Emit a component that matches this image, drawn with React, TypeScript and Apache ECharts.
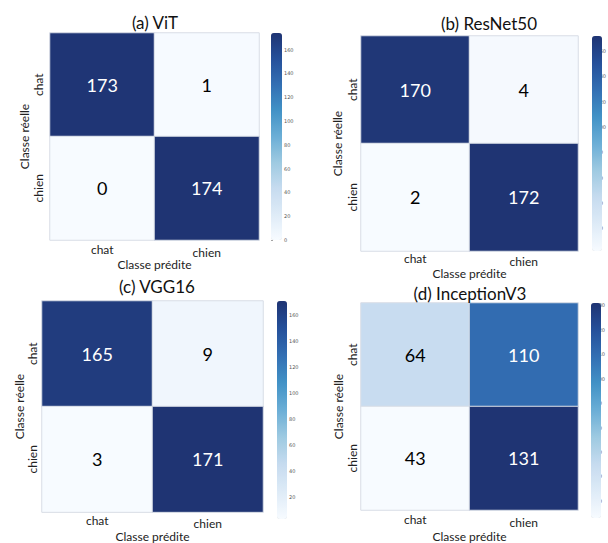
import React, { useEffect, useRef } from 'react';
import * as echarts from 'echarts';

// ---------- data ----------
const categories = ['chat', 'chien'];
const panelTitles = ['(a) ViT', '(b) ResNet50', '(c) VGG16', '(d) InceptionV3'];
// rows = actual class (chat, chien), columns = predicted class (chat, chien)
const vitMatrix = [[173, 1], [0, 174]];
const resnetMatrix = [[170, 4], [2, 172]];
const vggMatrix = [[165, 9], [3, 171]];
const inceptionMatrix = [[64, 110], [43, 131]];
const vitTicks = [0, 20, 40, 60, 80, 100, 120, 140, 160];
const resnetTicks = [20, 40, 60, 80, 100, 120, 140, 160];
const vggTicks = [20, 40, 60, 80, 100, 120, 140, 160];
const inceptionTicks = [50, 60, 70, 80, 90, 100, 110, 120, 130];
const xAxisName = 'Classe prédite';
const yAxisName = 'Classe réelle';

const matrices = [vitMatrix, resnetMatrix, vggMatrix, inceptionMatrix];
const tickLists = [vitTicks, resnetTicks, vggTicks, inceptionTicks];

// ---------- layout / style ----------
const FONT = 'Lato, "Open Sans", sans-serif';
const blues = ['#f7fbff', '#deebf7', '#c6dbef', '#9ecae1', '#6baed6', '#4292c6', '#336fb3', '#25509a', '#1f3473'];
const layouts = [
  { grid: { left: 50, top: 33, width: 209, height: 207 }, bar: { left: 271, top: 33, width: 11, height: 207 }, title: { x: 155, y: 14 }, xLabelMargin: 3, yLabelMargin: 6, xNameGap: 12, yNameGap: 20 },
  { grid: { left: 361, top: 36, width: 217, height: 215 }, bar: { left: 592, top: 36, width: 10, height: 215 }, title: { x: 489, y: 15 }, xLabelMargin: 1, yLabelMargin: 3, xNameGap: 7, yNameGap: 18 },
  { grid: { left: 42, top: 301, width: 221, height: 218 }, bar: { left: 277, top: 301, width: 10, height: 218 }, title: { x: 157, y: 278 }, xLabelMargin: 2, yLabelMargin: 4, xNameGap: 16, yNameGap: 17 },
  { grid: { left: 361, top: 303, width: 217, height: 215 }, bar: { left: 591, top: 303, width: 10, height: 215 }, title: { x: 470, y: 285 }, xLabelMargin: 3, yLabelMargin: 3, xNameGap: 20, yNameGap: 17 },
];

function buildOption() {
  const grids: any[] = [];
  const barGrids: any[] = [];
  const xAxes: any[] = [];
  const barXAxes: any[] = [];
  const yAxes: any[] = [];
  const barYAxes: any[] = [];
  const series: any[] = [];
  const visualMaps: any[] = [];
  const titles: any[] = [];
  const n = matrices.length;

  matrices.forEach((m, i) => {
    const L = layouts[i];
    const flat = m.flat();
    const vmin = Math.min(...flat);
    const vmax = Math.max(...flat);
    grids.push({ ...L.grid, containLabel: false });
    xAxes.push({
      type: 'category', gridIndex: i, data: categories, position: 'bottom',
      axisLine: { show: false }, axisTick: { show: false }, splitLine: { show: false },
      axisLabel: {
        margin: L.xLabelMargin, fontFamily: FONT, fontSize: 12, color: '#222',
        formatter: (v: string) => (v === 'chien' ? '{b|' + v + '}' : '{a|' + v + '}'),
        rich: { a: { fontFamily: FONT, fontSize: 12, color: '#222' }, b: { fontFamily: FONT, fontSize: 12, color: '#222', padding: [3, 0, 0, 0] } },
      },
      name: xAxisName, nameLocation: 'middle', nameGap: L.xNameGap,
      nameTextStyle: { fontFamily: FONT, fontSize: 12, color: '#222' },
    });
    yAxes.push({
      type: 'category', gridIndex: i, data: categories, inverse: true,
      axisLine: { show: false }, axisTick: { show: false }, splitLine: { show: false },
      axisLabel: { rotate: 90, margin: L.yLabelMargin, fontFamily: FONT, fontSize: 12, color: '#222' },
      name: yAxisName, nameLocation: 'middle', nameGap: L.yNameGap,
      nameTextStyle: { fontFamily: FONT, fontSize: 12, color: '#222' },
    });
    const data: any[] = [];
    m.forEach((row, r) => {
      row.forEach((v, c) => {
        const t = (v - vmin) / (vmax - vmin || 1);
        data.push({ value: [c, r, v], label: { color: t > 0.55 ? '#ffffff' : '#000000' } });
      });
    });
    series.push({
      type: 'heatmap', xAxisIndex: i, yAxisIndex: i, data,
      label: { show: true, fontFamily: FONT, fontSize: 18 },
      itemStyle: { borderColor: '#d8dde6', borderWidth: 1 },
      emphasis: { disabled: true },
    });
    visualMaps.push({
      type: 'continuous', seriesIndex: i, min: vmin, max: vmax,
      left: L.bar.left, top: L.bar.top, itemWidth: L.bar.width, itemHeight: L.bar.height,
      calculable: false, hoverLink: false, padding: 0, text: null, showLabel: false,
      inRange: { color: blues },
    });
    // colour-bar tick axis
    barGrids.push({ ...L.bar });
    barXAxes.push({ type: 'value', gridIndex: n + i, show: false, min: 0, max: 1 });
    barYAxes.push({
      type: 'value', gridIndex: n + i, min: vmin, max: vmax, position: 'right',
      axisLine: { show: false }, splitLine: { show: false },
      axisTick: { show: true, length: 2, lineStyle: { color: '#666', width: 0.6 }, customValues: tickLists[i] },
      axisLabel: { fontSize: 5, color: '#555', margin: 2, fontFamily: 'DejaVu Sans', customValues: tickLists[i] },
    });
    titles.push({
      text: panelTitles[i], left: L.title.x, top: L.title.y, textAlign: 'center', padding: 0,
      textStyle: { fontFamily: FONT, fontSize: 17, fontWeight: 'normal', color: '#111' },
    });
  });

  return {
    animation: false,
    backgroundColor: '#ffffff',
    title: titles,
    grid: grids.concat(barGrids),
    xAxis: xAxes.concat(barXAxes),
    yAxis: yAxes.concat(barYAxes),
    visualMap: visualMaps,
    series,
  };
}

export default function App() {
  const ref = useRef<HTMLDivElement>(null);
  useEffect(() => {
    if (!ref.current) return;
    const chart = echarts.init(ref.current, null, { renderer: 'svg' });
    chart.setOption(buildOption() as any);
    return () => chart.dispose();
  }, []);
  return (
    <div style={{ position: 'fixed', left: 0, top: 0, width: 608, height: 543, background: '#fff' }}>
      <div ref={ref} style={{ width: 608, height: 543 }} />
    </div>
  );
}
